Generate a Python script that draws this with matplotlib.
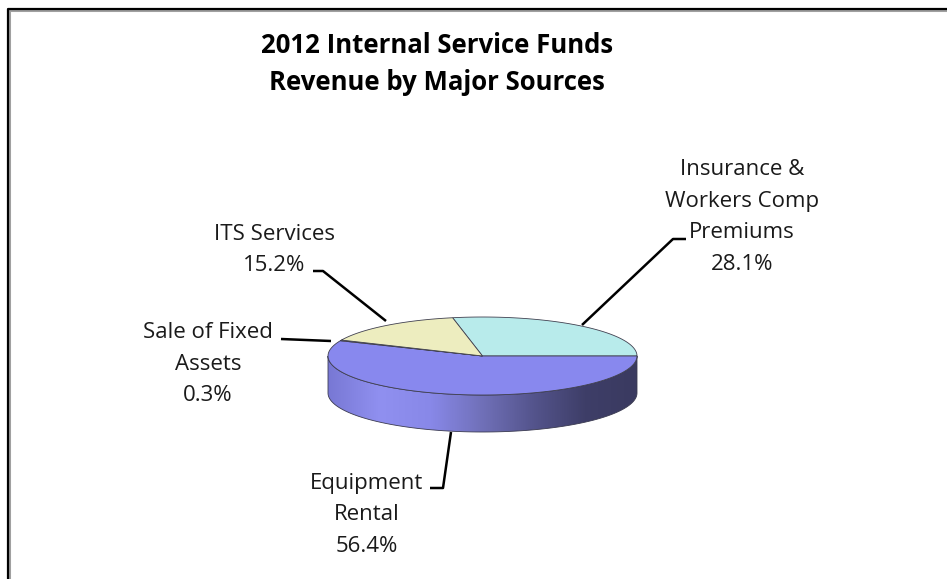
import numpy as np
import matplotlib
matplotlib.use("Agg")
import matplotlib.pyplot as plt
from matplotlib.patches import Polygon
from matplotlib.colors import LinearSegmentedColormap

# datos del grafico
fuentes = ["Insurance &\nWorkers Comp\nPremiums", "Equipment\nRental", "Sale of Fixed\nAssets", "ITS Services"]
porcentajes = [28.1, 56.4, 0.3, 15.2]
colores = ["#B8EBEB", "#8888EE", "#D98C8C", "#EDEDBF"]

titulo = "2012 Internal Service Funds\nRevenue by Major Sources"

# geometria del pastel 3D (en pixeles)
cx, cy = 482.5, 356
a, b = 154.5, 39
prof = 37
inicio = porcentajes[0] * 3.6  # la primera porcion termina a las 3 en punto


def arco(t0, t1, dy=0, n=120):
    t = np.radians(np.linspace(t0, t1, n))
    return np.column_stack([cx + a * np.cos(t), cy + dy - b * np.sin(t)])


fig = plt.figure(figsize=(9.47, 5.79), dpi=100)
ax = fig.add_axes([0, 0, 1, 1])
ax.set_xlim(0, 947)
ax.set_ylim(579, 0)
ax.axis("off")

# marco del grafico
ax.plot([9, 9, 947], [579, 10, 10], color="#A0A0A0", lw=2.2, solid_capstyle="butt")
ax.plot([8, 8, 947], [579, 9, 9], color="black", lw=1.6, solid_capstyle="butt")

# angulos de cada porcion (sentido horario)
fin = np.cumsum([0] + porcentajes)
t_ini = inicio - fin[:-1] * 3.6
t_fin = inicio - fin[1:] * 3.6

# costado del pastel con degradado
cmap_lado = LinearSegmentedColormap.from_list(
    "lado", ["#7878D4", "#9090F0", "#8888E8", "#7070B8", "#54548C", "#3E3E68", "#3A3A60"])
for i in range(len(porcentajes)):
    # parte frontal visible: angulos entre -180 y 0
    for off in (0, -360, 360):
        lo = max(t_fin[i] + off, -180)
        hi = min(t_ini[i] + off, 0)
        if hi - lo <= 0:
            continue
        sup = arco(hi, lo)
        inf = arco(lo, hi, dy=prof)
        pts = np.vstack([sup, inf])
        lado = Polygon(pts, closed=True, facecolor="none", edgecolor="#3A3A50", lw=0.6, zorder=3)
        ax.add_patch(lado)
        grad = np.linspace(0, 1, 256).reshape(1, -1)
        im = ax.imshow(grad, cmap=cmap_lado, aspect="auto",
                       extent=[cx - a, cx + a, cy + b + prof + 2, cy - 2], zorder=2)
        im.set_clip_path(lado)

# cara superior
for i in range(len(porcentajes)):
    pts = np.vstack([[cx, cy], arco(t_ini[i], t_fin[i])])
    ax.add_patch(Polygon(pts, closed=True, facecolor=colores[i],
                         edgecolor="#404050", lw=0.6, zorder=4))

ax.set_xlim(0, 947)
ax.set_ylim(579, 0)

# etiquetas con lineas guia
txt = dict(ha="center", va="center", fontsize=16, family="Open Sans",
           color="#1A1A1A", linespacing=1.65)
ax.text(742, 217, fuentes[0] + f"\n{porcentajes[0]}%", **txt)
ax.text(274, 250, fuentes[3] + f"\n{porcentajes[3]}%", **txt)
ax.text(208, 364, fuentes[2] + f"\n{porcentajes[2]}%", **txt)
ax.text(367, 515, fuentes[1] + f"\n{porcentajes[1]}%", **txt)

guia = dict(color="black", lw=1.8, zorder=5, solid_capstyle="butt")
ax.plot([686, 673, 582], [239, 239, 325], **guia)
ax.plot([313, 323, 386], [271, 271, 321], **guia)
ax.plot([281, 331], [339, 341], **guia)
ax.plot([430, 443, 451], [488, 488, 432], **guia)

ax.text(437, 64, titulo, ha="center", va="center", fontsize=18.5, fontweight="bold",
        family="Open Sans", color="black", linespacing=1.5)

fig.savefig("out.png", dpi=100)
